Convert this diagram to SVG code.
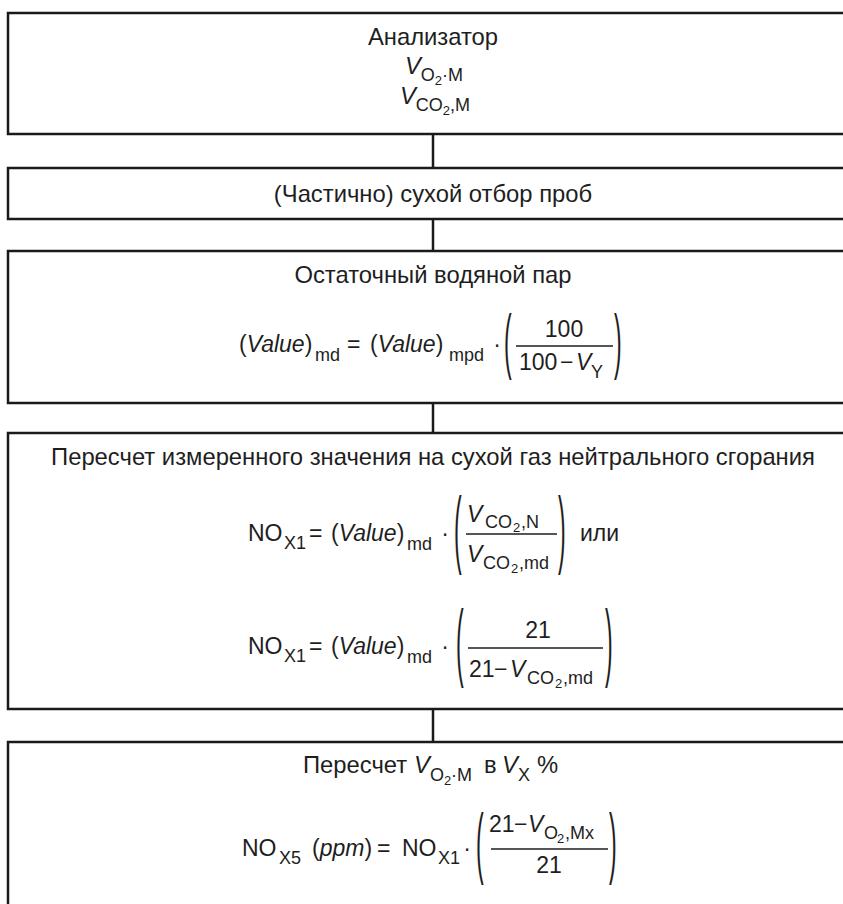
<svg xmlns="http://www.w3.org/2000/svg" width="843" height="904" viewBox="0 0 843 904">
<style>
.box{fill:#fff;stroke:#1a1a1a;stroke-width:2.5}
.con{stroke:#1a1a1a;stroke-width:2.5;fill:none}
text{font-family:"Liberation Sans",Arial,sans-serif;font-size:23px;fill:#1e1e1e}
.t{font-size:23.8px}
.i{font-style:italic}
.s{font-size:18px}
.ss{font-size:13px}
.bar{stroke:#1e1e1e;stroke-width:1.6}
</style>
<rect width="843" height="904" fill="#fff"/>
<g id="connectors">
<line class="con" x1="433" y1="134" x2="433" y2="168"/>
<line class="con" x1="433" y1="219" x2="433" y2="251"/>
<line class="con" x1="433" y1="403" x2="433" y2="433"/>
<line class="con" x1="433" y1="709" x2="433" y2="742"/>
</g>
<g id="analyzer">
<rect class="box" x="8" y="13" width="860" height="121"/>
<text class="t" x="433" y="45" text-anchor="middle">Анализатор</text>
<text class="t" x="434" y="74" text-anchor="middle"><tspan class="i">V</tspan><tspan class="s" dy="7">O</tspan><tspan class="ss" dy="4">2</tspan><tspan class="s" dy="-4">·M</tspan></text>
<text class="t" x="435" y="104" text-anchor="middle"><tspan class="i">V</tspan><tspan class="s" dy="7">CO</tspan><tspan class="ss" dy="4">2</tspan><tspan class="s" dy="-4">,M</tspan></text>
</g>
<g id="sampling">
<rect class="box" x="8" y="168" width="860" height="51"/>
<text class="t" x="433" y="202" text-anchor="middle">(Частично) сухой отбор проб</text>
</g>
<g id="vapour">
<rect class="box" x="8" y="251" width="860" height="152"/>
<text class="t" x="433" y="283" text-anchor="middle">Остаточный водяной пар</text>
<text x="239" y="352">(<tspan class="i">Value</tspan>)</text>
<text class="s" x="315" y="361">md</text>
<text x="347" y="352">=</text>
<text x="370" y="352">(<tspan class="i">Value</tspan>)</text>
<text class="s" x="449" y="361">mpd</text>
<text x="497" y="352" text-anchor="middle">·</text>
<text transform="translate(504,365) scale(1,3.15)">(</text>
<text x="564" y="337" text-anchor="middle">100</text>
<line class="bar" x1="516" y1="346" x2="613" y2="346"/>
<text x="519" y="370">100</text>
<text x="560" y="370">−</text>
<text class="i" x="576" y="370">V</text>
<text class="s" x="591" y="378">Y</text>
<text transform="translate(614,365) scale(1,3.15)">)</text>
</g>
<g id="conversion">
<rect class="box" x="8" y="433" width="860" height="276"/>
<text class="t" x="433" y="465" text-anchor="middle">Пересчет измеренного значения на сухой газ нейтрального сгорания</text>
<text x="248" y="541">NO</text>
<text class="s" x="284" y="549">X1</text>
<text x="309" y="541">=</text>
<text x="331" y="541">(<tspan class="i">Value</tspan>)</text>
<text class="s" x="407" y="550">md</text>
<text x="445" y="541" text-anchor="middle">·</text>
<text transform="translate(454,557) scale(1,3.7)">(</text>
<text class="i" x="467" y="522">V</text>
<text class="s" x="485" y="528">CO</text>
<text class="ss" x="513" y="532">2</text>
<text class="s" x="521" y="528">,N</text>
<line class="bar" x1="466" y1="534" x2="557" y2="534"/>
<text class="i" x="467" y="562">V</text>
<text class="s" x="483" y="569">CO</text>
<text class="ss" x="511" y="573">2</text>
<text class="s" x="519" y="569">,md</text>
<text transform="translate(558,557) scale(1,3.7)">)</text>
<text x="580" y="541">или</text>
<text x="248" y="654">NO</text>
<text class="s" x="284" y="662">X1</text>
<text x="309" y="654">=</text>
<text x="331" y="654">(<tspan class="i">Value</tspan>)</text>
<text class="s" x="407" y="663">md</text>
<text x="445" y="654" text-anchor="middle">·</text>
<text transform="translate(456,670) scale(1,3.7)">(</text>
<text x="538" y="638" text-anchor="middle">21</text>
<line class="bar" x1="468" y1="648" x2="603" y2="648"/>
<text x="469" y="677">21</text>
<text x="494" y="677">−</text>
<text class="i" x="510" y="677">V</text>
<text class="s" x="527" y="684">CO</text>
<text class="ss" x="555" y="688">2</text>
<text class="s" x="563" y="684">,md</text>
<text transform="translate(605,670) scale(1,3.7)">)</text>
</g>
<g id="recalc">
<rect class="box" x="8" y="742" width="860" height="200"/>
<text class="t" x="303" y="773">Пересчет</text>
<text class="t i" x="414" y="773">V</text>
<text class="s" x="430" y="781">O</text>
<text class="ss" x="444" y="785">2</text>
<text class="s" x="451" y="781">·M</text>
<text class="t" x="484" y="773">в</text>
<text class="t i" x="502" y="773">V</text>
<text class="s" x="518" y="781">X</text>
<text class="t" x="537" y="773">%</text>
<text x="242" y="856">NO</text>
<text class="s" x="279" y="864">X5</text>
<text x="312" y="856">(<tspan class="i">ppm</tspan>)</text>
<text x="377" y="856">=</text>
<text x="402" y="856">NO</text>
<text class="s" x="438" y="864">X1</text>
<text x="467" y="856" text-anchor="middle">·</text>
<text transform="translate(476,869) scale(1,3.4)">(</text>
<text x="489" y="832">21</text>
<text x="514" y="832">−</text>
<text class="i" x="528" y="832">V</text>
<text class="s" x="544" y="839">O</text>
<text class="ss" x="557" y="843">2</text>
<text class="s" x="565" y="839">,Mx</text>
<line class="bar" x1="491" y1="849" x2="608" y2="849"/>
<text x="549" y="873" text-anchor="middle">21</text>
<text transform="translate(609,869) scale(1,3.4)">)</text>
</g>
</svg>
